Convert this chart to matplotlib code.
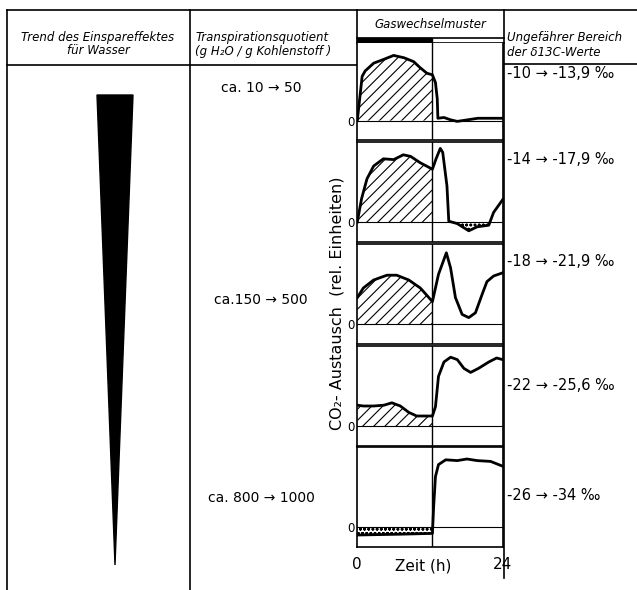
import matplotlib
matplotlib.use('Agg')
import numpy as np
import matplotlib.pyplot as plt
from matplotlib.patches import Polygon, Rectangle

plt.rcParams['font.family'] = 'DejaVu Sans'
plt.rcParams['hatch.linewidth'] = 0.8

# gas exchange patterns, one per row: time (h) and CO2 exchange (rel. units)
hours_1 = [0.0, 0.8, 1.3, 2.7, 4.4, 6.0, 7.7, 9.3, 10.4, 11.5, 12.4, 12.9, 13.2, 13.3,
           14.3, 15.4, 16.5, 18.2, 19.9, 22.0, 24.0]
co2_1 = [0.0, 0.57, 0.64, 0.74, 0.79, 0.84, 0.81, 0.76, 0.68, 0.61, 0.59, 0.49, 0.28, 0.03,
         0.04, 0.01, -0.01, 0.01, 0.03, 0.03, 0.03]

hours_2 = [0.0, 0.7, 1.6, 2.7, 4.3, 6.0, 7.6, 8.8, 10.4, 12.4, 13.0, 13.7, 14.1, 14.8,
           15.1, 16.5, 18.4, 19.8, 21.7, 22.5, 24.0]
co2_2 = [0.0, 0.29, 0.54, 0.70, 0.79, 0.78, 0.84, 0.82, 0.74, 0.66, 0.79, 0.92, 0.87, 0.45,
         0.01, -0.02, -0.11, -0.06, -0.04, 0.12, 0.28]

hours_3 = [0.0, 1.0, 2.7, 4.9, 6.5, 8.5, 10.4, 12.4, 13.4, 14.7, 15.4, 16.2, 17.3, 18.4,
           19.5, 20.6, 21.4, 22.5, 24.0]
co2_3 = [0.33, 0.45, 0.55, 0.61, 0.61, 0.55, 0.45, 0.28, 0.62, 0.89, 0.70, 0.33, 0.12, 0.08,
         0.14, 0.37, 0.53, 0.60, 0.64]

hours_4 = [0.0, 1.0, 2.7, 4.4, 5.7, 7.1, 8.5, 9.8, 12.4, 12.9, 13.4, 14.3, 15.4, 16.5,
           17.6, 18.7, 20.0, 21.7, 23.0, 24.0]
co2_4 = [0.26, 0.25, 0.25, 0.26, 0.29, 0.25, 0.17, 0.125, 0.125, 0.24, 0.62, 0.80, 0.86, 0.83,
         0.72, 0.67, 0.72, 0.80, 0.85, 0.83]

hours_5 = [0.0, 7.0, 12.4, 12.6, 12.9, 13.4, 14.6, 16.5, 18.1, 19.8, 22.0, 23.0, 24.0]
co2_5 = [-0.10, -0.09, -0.08, 0.25, 0.63, 0.78, 0.84, 0.83, 0.85, 0.83, 0.82, 0.79, 0.76]

transpiration_labels = ['ca. 10 → 50', 'ca.150 → 500', 'ca. 800 → 1000']
delta13c_labels = ['-10 → -13,9 ‰', '-14 → -17,9 ‰', '-18 → -21,9 ‰',
                   '-22 → -25,6 ‰', '-26 → -34 ‰']

series = [(hours_1, co2_1), (hours_2, co2_2), (hours_3, co2_3), (hours_4, co2_4), (hours_5, co2_5)]
light_end = 12.4  # end of the light period (black bar)

W, H = 637, 590
fig = plt.figure(figsize=(W / 100, H / 100), dpi=100)

# table frame drawn in pixel coordinates
tab = fig.add_axes([0, 0, 1, 1])
tab.set_xlim(0, W)
tab.set_ylim(H, 0)
tab.axis('off')

lw = 1.2
tab.plot([7, W], [10, 10], color='black', lw=lw)
tab.plot([7, 7], [10, H], color='black', lw=lw)
tab.plot([190, 190], [10, H], color='black', lw=lw)
tab.plot([357, 357], [10, 43], color='black', lw=lw)
tab.plot([504, 504], [10, 578], color='black', lw=lw)
tab.plot([7, 357], [65, 65], color='black', lw=lw)
tab.plot([504, W], [64, 64], color='black', lw=lw)
tab.plot([357, 504], [38, 38], color='black', lw=lw)
tab.plot([432, 504], [43, 43], color='black', lw=lw)
tab.add_patch(Rectangle((357, 38), 75, 5, facecolor='black', edgecolor='black'))

# header texts
hdr = dict(fontsize=8.5, style='italic', va='center')
tab.text(98, 37, 'Trend des Einspareffektes', ha='center', **hdr)
tab.text(98, 50, 'für Wasser', ha='center', **hdr)
tab.text(195, 37, 'Transpirationsquotient', ha='left', **hdr)
tab.text(195, 51, '(g H₂O / g Kohlenstoff )', ha='left', **hdr)
tab.text(430, 24, 'Gaswechselmuster', ha='center', **hdr)
tab.text(507, 38, 'Ungefährer Bereich', ha='left', **hdr)
tab.text(507, 52, 'der δ13C-Werte', ha='left', **hdr)

# water saving trend wedge
tab.add_patch(Polygon([(97, 95), (133, 95), (115, 565)], closed=True,
                      facecolor='black', edgecolor='black'))

for y, s in zip([88, 300, 498], transpiration_labels):
    tab.text(261, y, s, ha='center', va='center', fontsize=10)
for y, s in zip([73, 160, 262, 386, 495], delta13c_labels):
    tab.text(507, y, s, ha='left', va='center', fontsize=10.5)

tab.text(337, 303, 'CO₂- Austausch  (rel. Einheiten)', rotation=90,
         ha='center', va='center', fontsize=11.5)

# gas exchange panels
panel_px = [(43, 140), (142, 242), (244, 344), (346, 446), (447, 547)]
x0, x1 = 357.3, 502.7
for i, ((top, bot), (h, c)) in enumerate(zip(panel_px, series)):
    ax = fig.add_axes([x0 / W, 1 - bot / H, (x1 - x0) / W, (bot - top) / H])
    h = np.array(h)
    c = np.array(c)
    day = h <= light_end
    if i < 4:
        ax.fill_between(h, 0, c, where=day, hatch='///', facecolor='none',
                        edgecolor='black', linewidth=0)
    else:
        ax.fill_between(h, c, 0, where=day, hatch='oooo', facecolor='none',
                        edgecolor='black', linewidth=0)
    if i == 1:
        ax.fill_between(h, c, 0, where=(h > light_end) & (c < 0), interpolate=True,
                        hatch='oooo', facecolor='none', edgecolor='black', linewidth=0)
    ax.plot(h, c, color='black', lw=2.0, solid_joinstyle='round')
    ax.axhline(0, color='black', lw=0.8)
    ax.axvline(light_end, color='black', lw=1.0)
    ax.set_xlim(0, 24)
    ax.set_ylim(-0.25, 1.0)
    ax.set_yticks([0])
    ax.set_yticklabels(['0'], fontsize=8.5)
    ax.tick_params(length=0, pad=2)
    for sp in ax.spines.values():
        sp.set_linewidth(1.2)
    if i == 4:
        ax.set_xticks([0, 24])
        ax.set_xticklabels(['0', '24'], fontsize=11)
        ax.tick_params(axis='x', pad=7)
        ax.text(10.8, -0.39, 'Zeit (h)', ha='center', va='top', fontsize=11)
    else:
        ax.set_xticks([])
    if i == 0:
        ax.spines['top'].set_visible(False)

fig.savefig('out.png', dpi=100)
